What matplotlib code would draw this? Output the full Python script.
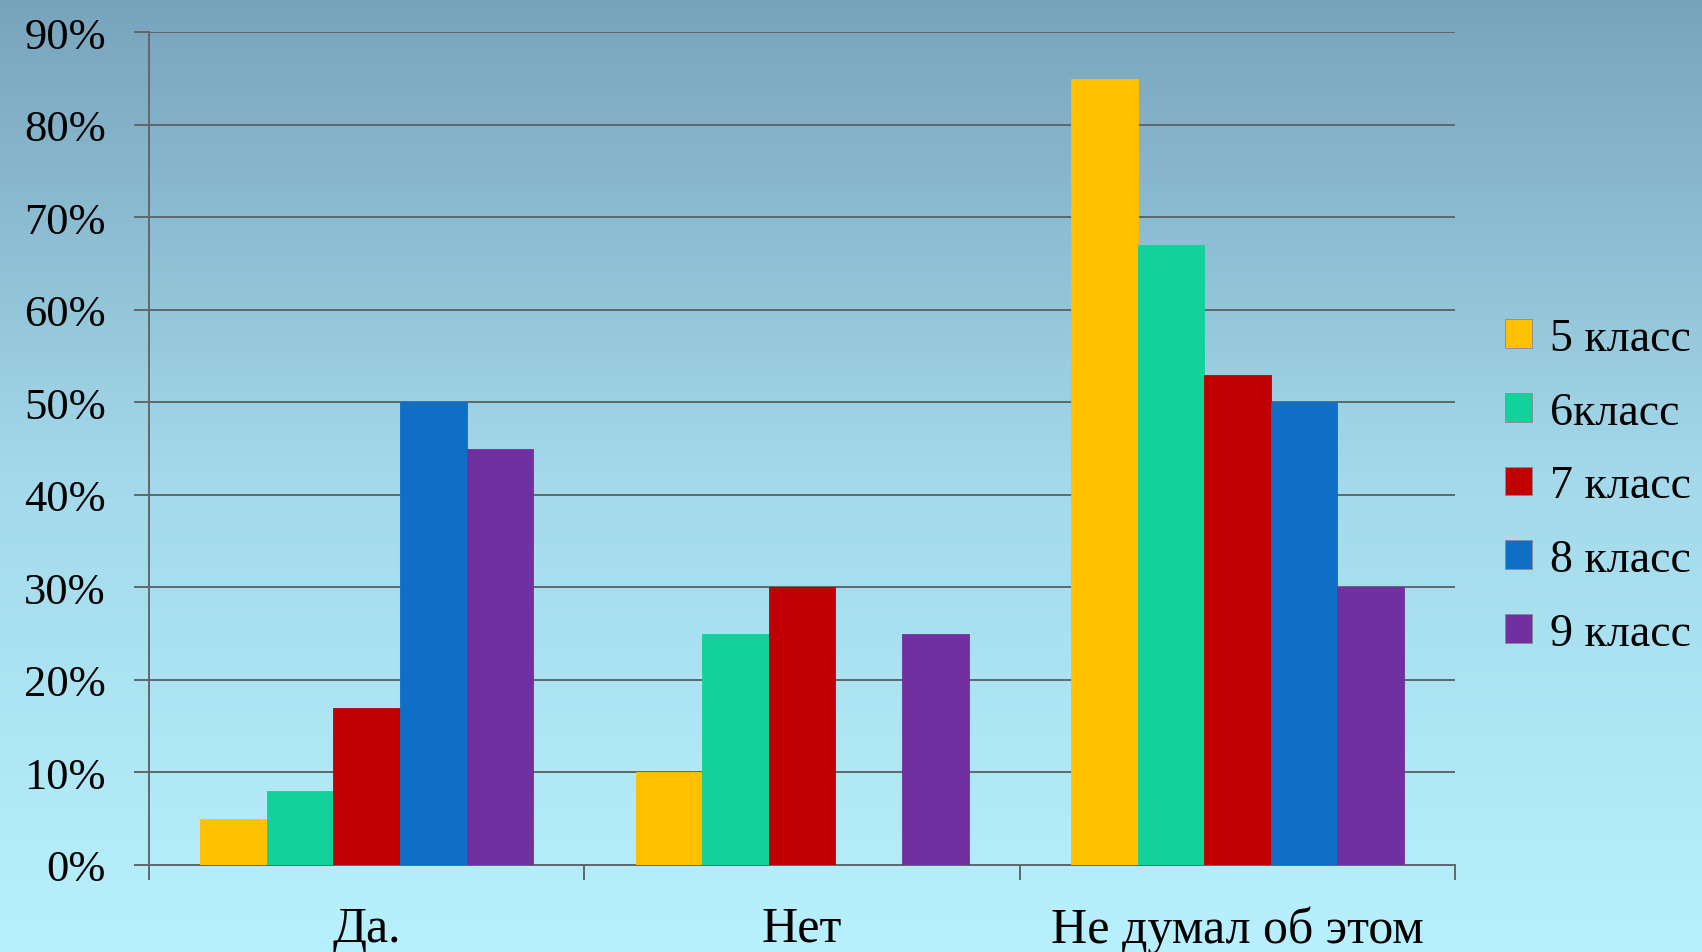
import numpy as np
import matplotlib
matplotlib.use("Agg")
import matplotlib.pyplot as plt
from matplotlib.colors import LinearSegmentedColormap

categories = ["Да.", "Нет", "Не думал об этом"]
series_names = ["5 класс", "6класс", "7 класс", "8 класс", "9 класс"]
values = {
    "5 класс": [5, 10, 85],
    "6класс": [8, 25, 67],
    "7 класс": [17, 30, 53],
    "8 класс": [50, 0, 50],
    "9 класс": [45, 25, 30],
}
colors = ["#FFC000", "#12D19A", "#C00000", "#0F6FC6", "#7030A0"]
yticks = [0, 10, 20, 30, 40, 50, 60, 70, 80, 90]

font = ["Liberation Serif", "DejaVu Serif"]
plt.rcParams["font.family"] = font


def main():
    fig = plt.figure(figsize=(17.02, 9.53), dpi=100)

    # background gradient
    bg = fig.add_axes([0, 0, 1, 1], zorder=-1)
    grad = np.linspace(0, 1, 256).reshape(-1, 1)
    cmap = LinearSegmentedColormap.from_list("bg", ["#78A3BC", "#A3D9EA", "#B8F1FD"])
    bg.imshow(grad, aspect="auto", cmap=cmap, extent=[0, 1, 0, 1], origin="upper")
    bg.axis("off")

    ax = fig.add_axes([0.0875, 0.0913, 0.7675, 0.8737])
    ax.patch.set_alpha(0)

    x = np.arange(len(categories))
    width = 0.153
    n = len(series_names)
    for i, name in enumerate(series_names):
        offs = (i - (n - 1) / 2) * width
        ax.bar(x + offs, values[name], width, color=colors[i], label=name,
               edgecolor=colors[i], linewidth=0.6, zorder=3)

    ax.set_xlim(-0.5, 2.5)
    ax.set_ylim(0, 90)
    ax.set_yticks(yticks)
    ax.set_yticklabels([f"{v}%" for v in yticks], fontsize=32)
    ax.set_xticks(x)
    ax.set_xticklabels(categories, fontsize=36)
    ax.set_xticks([-0.5, 0.5, 1.5, 2.5], minor=True)
    ax.tick_params(axis="x", which="major", length=0, pad=29)
    ax.tick_params(axis="x", which="minor", length=11, width=1.4, color="#5F686C")
    ax.tick_params(axis="y", length=11, width=1.4, color="#5F686C", pad=20)

    ax.grid(axis="y", color="#5F686C", linewidth=1.4, zorder=0)
    ax.set_axisbelow(True)
    for s in ["top", "right"]:
        ax.spines[s].set_visible(False)
    for s in ["left", "bottom"]:
        ax.spines[s].set_color("#5F686C")
        ax.spines[s].set_linewidth(1.4)

    leg = ax.legend(loc="center left", bbox_to_anchor=(0.86, 0.489),
                    bbox_transform=fig.transFigure, frameon=False, fontsize=33,
                    handlelength=0.58, handleheight=0.58, handletextpad=0.4,
                    labelspacing=0.68)
    for p in leg.get_patches():
        p.set_edgecolor("#8a8a8a")
        p.set_linewidth(0.6)

    fig.savefig("out.png", dpi=100)


if __name__ == "__main__":
    main()
